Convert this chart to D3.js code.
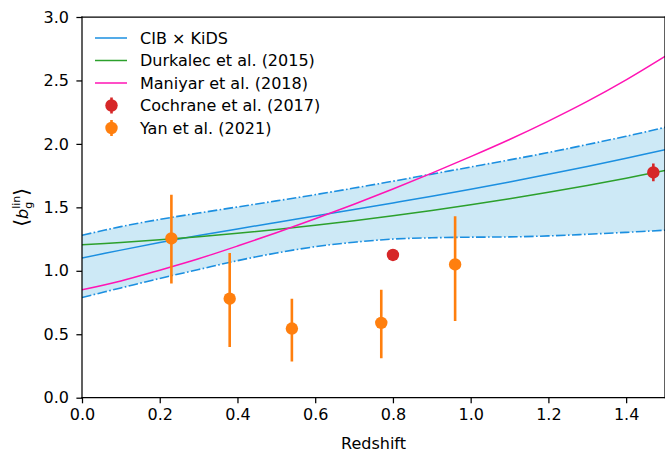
<!DOCTYPE html>
<html>
<head>
<meta charset="utf-8">
<script src="https://cdn.jsdelivr.net/npm/d3@7"></script>
<style>
  html, body { margin: 0; padding: 0; background: #fff; }
  svg { display: block; }
  text { font-family: "DejaVu Sans", sans-serif; fill: #000; }
</style>
</head>
<body>
<svg id="chart" width="665" height="452"></svg>
<script>
// Redshift grid on which the model curves are sampled
const zGrid = [0, 0.1, 0.2, 0.3, 0.4, 0.5, 0.6, 0.7, 0.8, 0.9, 1.0, 1.1, 1.2, 1.3, 1.4, 1.5];

// CIB x KiDS best fit and its 1-sigma envelope
const cibKids      = [1.10, 1.163, 1.223, 1.278, 1.330, 1.381, 1.432, 1.483, 1.535, 1.588, 1.643, 1.700, 1.760, 1.822, 1.887, 1.955];
const cibKidsUpper = [1.28, 1.348, 1.405, 1.455, 1.503, 1.551, 1.600, 1.652, 1.706, 1.762, 1.818, 1.874, 1.932, 1.995, 2.06, 2.13];
const cibKidsLower = [0.79, 0.865, 0.94, 1.01, 1.08, 1.14, 1.19, 1.225, 1.25, 1.26, 1.265, 1.267, 1.275, 1.288, 1.303, 1.32];

// Literature models
const durkalec = [1.205, 1.223, 1.244, 1.268, 1.295, 1.325, 1.358, 1.394, 1.433, 1.475, 1.520, 1.568, 1.619, 1.673, 1.730, 1.790];
const maniyar  = [0.85, 0.92, 1.005, 1.095, 1.195, 1.30, 1.41, 1.525, 1.645, 1.77, 1.90, 2.035, 2.18, 2.335, 2.505, 2.69];

// Measurements with error bars
const cochraneZ   = [0.80, 1.47];
const cochraneB   = [1.125, 1.775];
const cochraneErr = [0.04, 0.07];

const yanZ    = [0.23, 0.38, 0.54, 0.77, 0.96];
const yanB    = [1.255, 0.78, 0.545, 0.59, 1.05];
const yanLow  = [0.90, 0.40, 0.285, 0.31, 0.605];
const yanHigh = [1.60, 1.14, 0.78, 0.85, 1.43];

const xTicks = [0.0, 0.2, 0.4, 0.6, 0.8, 1.0, 1.2, 1.4];
const yTicks = [0.0, 0.5, 1.0, 1.5, 2.0, 2.5, 3.0];

const colors = {
  cib: "#1b8fe0",
  fill: "#cde9f6",
  durkalec: "#2ca02c",
  maniyar: "#ff14b4",
  cochrane: "#d62728",
  yan: "#ff7f0e"
};

const margin = { left: 82, top: 17, right: 0, bottom: 54 };
const W = 665, H = 452;
const svg = d3.select("#chart");

const x = d3.scaleLinear().domain([0, 1.5]).range([margin.left, W - margin.right]);
const y = d3.scaleLinear().domain([0, 3.0]).range([H - margin.bottom - 0.3, margin.top]);

svg.append("defs").append("clipPath").attr("id", "plotclip")
  .append("rect")
  .attr("x", x(0)).attr("y", y(3))
  .attr("width", x(1.5) - x(0)).attr("height", y(0) - y(3));

const plot = svg.append("g").attr("clip-path", "url(#plotclip)");

const curve = d3.curveCatmullRom.alpha(0.5);
const line = vals => d3.line().x((d, i) => x(zGrid[i])).y(d => y(d)).curve(curve)(vals);

// Shaded 1-sigma band
const area = d3.area()
  .x((d, i) => x(zGrid[i]))
  .y0((d, i) => y(cibKidsLower[i]))
  .y1((d, i) => y(cibKidsUpper[i]))
  .curve(curve);
plot.append("path").attr("d", area(zGrid)).attr("fill", colors.fill).attr("stroke", "none");

// Band edges, dash-dot
[cibKidsUpper, cibKidsLower].forEach(vals => {
  plot.append("path").attr("d", line(vals))
    .attr("fill", "none").attr("stroke", colors.cib)
    .attr("stroke-width", 1.6).attr("stroke-dasharray", "9.6,2.4,1.6,2.4");
});

// Model curves
[[cibKids, colors.cib], [durkalec, colors.durkalec], [maniyar, colors.maniyar]].forEach(([vals, c]) => {
  plot.append("path").attr("d", line(vals))
    .attr("fill", "none").attr("stroke", c).attr("stroke-width", 1.5);
});

// Yan et al. points
yanZ.forEach((z, i) => {
  plot.append("line")
    .attr("x1", x(z)).attr("x2", x(z))
    .attr("y1", y(yanLow[i])).attr("y2", y(yanHigh[i]))
    .attr("stroke", colors.yan).attr("stroke-width", 2.6);
  plot.append("circle").attr("cx", x(z)).attr("cy", y(yanB[i])).attr("r", 6.2).attr("fill", colors.yan);
});

// Cochrane et al. points
cochraneZ.forEach((z, i) => {
  plot.append("line")
    .attr("x1", x(z)).attr("x2", x(z))
    .attr("y1", y(cochraneB[i] - cochraneErr[i])).attr("y2", y(cochraneB[i] + cochraneErr[i]))
    .attr("stroke", colors.cochrane).attr("stroke-width", 2.6);
  plot.append("circle").attr("cx", x(z)).attr("cy", y(cochraneB[i])).attr("r", 6.2).attr("fill", colors.cochrane);
});

// Axes
const xAxis = d3.axisBottom(x).tickValues(xTicks).tickFormat(d3.format(".1f")).tickSize(5.6).tickPadding(5.5);
const yAxis = d3.axisLeft(y).tickValues(yTicks).tickFormat(d3.format(".1f")).tickSize(5.6).tickPadding(7.5);

const gx = svg.append("g").attr("transform", `translate(0,${y(0)})`).call(xAxis);
const gy = svg.append("g").attr("transform", `translate(${x(0)},0)`).call(yAxis);
[gx, gy].forEach(g => {
  g.select(".domain").remove();
  g.selectAll(".tick line").attr("stroke", "#000").attr("stroke-width", 1.25);
  g.selectAll(".tick text").attr("font-family", "DejaVu Sans").attr("font-size", 16).attr("fill", "#000");
});

// Spines
const spine = (x1, y1, x2, y2) => svg.append("line")
  .attr("x1", x1).attr("y1", y1).attr("x2", x2).attr("y2", y2)
  .attr("stroke", "#000").attr("stroke-width", 1.25).attr("stroke-linecap", "square");
spine(x(0), y(0), x(1.5), y(0));
spine(x(0), y(0), x(0), y(3));
spine(x(0), y(3), x(1.5), y(3));
spine(x(1.5), y(0), x(1.5), y(3));

// Axis labels
svg.append("text").attr("x", (x(0) + x(1.5)) / 2).attr("y", 448.5)
  .attr("text-anchor", "middle").attr("font-size", 16).text("Redshift");

const yl = svg.append("text")
  .attr("transform", `translate(28,${(y(0) + y(3)) / 2}) rotate(-90)`)
  .attr("text-anchor", "middle").attr("font-size", 16);
yl.append("tspan").attr("font-size", 20).attr("dy", 0).text("⟨");
yl.append("tspan").attr("font-style", "italic").text("b");
yl.append("tspan").attr("font-size", 11).attr("dy", 4).text("g");
yl.append("tspan").attr("font-size", 11).attr("dx", -7).attr("dy", -12).text("lin");
yl.append("tspan").attr("font-size", 20).attr("dy", 8).text("⟩");

// Legend
const legend = svg.append("g");
const rowY = [38, 60.5, 83, 105.5, 128];
const legendItems = [
  { label: "CIB × KiDS", kind: "line", color: colors.cib },
  { label: "Durkalec et al. (2015)", kind: "line", color: colors.durkalec },
  { label: "Maniyar et al. (2018)", kind: "line", color: colors.maniyar },
  { label: "Cochrane et al. (2017)", kind: "point", color: colors.cochrane },
  { label: "Yan et al. (2021)", kind: "point", color: colors.yan }
];
legendItems.forEach((item, i) => {
  const ry = rowY[i];
  if (item.kind === "line") {
    legend.append("line").attr("x1", 95).attr("x2", 127).attr("y1", ry).attr("y2", ry)
      .attr("stroke", item.color).attr("stroke-width", 1.5);
  } else {
    legend.append("line").attr("x1", 111.5).attr("x2", 111.5).attr("y1", ry - 8).attr("y2", ry + 8)
      .attr("stroke", item.color).attr("stroke-width", 2.6);
    legend.append("circle").attr("cx", 111.5).attr("cy", ry).attr("r", 6.2).attr("fill", item.color);
  }
  legend.append("text").attr("x", 140).attr("y", ry + 5.8).attr("font-size", 16).text(item.label);
});
</script>
</body>
</html>
